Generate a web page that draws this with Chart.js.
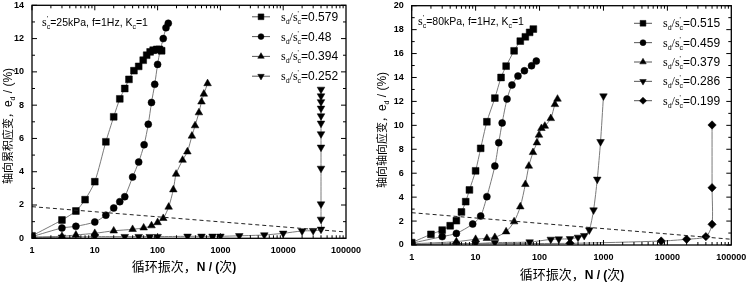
<!DOCTYPE html>
<html>
<head>
<title>Cyclic strain curves</title>
<script src="https://cdn.jsdelivr.net/npm/chart.js"></script>
<style>
  body { margin: 0; background: #fff; }
  .panel { position: absolute; top: 0; width: 374px; height: 282px; }
</style>
</head>
<body>
<div class="panel" style="left:0"><canvas id="leftChart" width="374" height="282"></canvas></div>
<div class="panel" style="left:374px"><canvas id="rightChart" width="374" height="282"></canvas></div>
<script>
// ---- data ----
// left panel: s'c = 25kPa
const leftRatios = ['0.579', '0.48', '0.394', '0.252'];
const leftSqN = [1, 3, 5, 7, 10, 15, 20, 25, 30, 35, 42, 50, 59, 67, 76, 85, 97, 107, 116];
const leftSqE = [0.15, 1.1, 1.64, 2.32, 3.4, 5.8, 7.3, 8.38, 9.0, 9.55, 10.07, 10.33, 10.7, 11.0, 11.2, 11.3, 11.35, 11.35, 11.27];
const leftCiN = [1, 3, 5, 10, 15, 20, 25, 30, 40, 50, 61, 71, 80, 90, 100, 110, 123, 136, 148];
const leftCiE = [0.1, 0.62, 0.72, 0.98, 1.39, 1.82, 2.2, 2.5, 3.68, 4.58, 5.62, 6.85, 8.16, 9.25, 10.45, 11.3, 12.0, 12.65, 12.92];
const leftTrN = [1, 3, 5, 10, 20, 40, 60, 80, 100, 123, 150, 178, 197, 250, 298, 352, 395, 455, 500, 545, 625];
const leftTrE = [0.08, 0.12, 0.2, 0.3, 0.45, 0.54, 0.63, 0.76, 0.95, 1.2, 1.88, 2.92, 3.86, 4.7, 5.2, 6.15, 6.77, 7.55, 8.2, 8.67, 9.3];
const leftInN = [1, 3, 10, 30, 50, 75, 100, 300, 500, 750, 1000, 2000, 5000, 10000, 20000, 30000, 40000, 40000, 40000, 40000, 40000, 40000, 40000, 40000, 40000, 40000, 40000, 40000];
const leftInE = [0.05, 0.06, 0.1, 0.1, 0.1, 0.1, 0.1, 0.12, 0.12, 0.12, 0.12, 0.15, 0.2, 0.3, 0.44, 0.46, 0.54, 1.14, 2.06, 4.2, 5.47, 6.27, 6.91, 7.35, 7.81, 8.2, 8.55, 8.95];
const leftLimitN = [1, 100000];
const leftLimitE = [1.9, 0.38];

// right panel: s'c = 80kPa
const rightRatios = ['0.515', '0.459', '0.379', '0.286', '0.199'];
const rightSqN = [1, 2, 3, 4, 5, 6, 7, 8, 10, 12, 15, 20, 25, 30, 40, 50, 60, 70, 80];
const rightSqE = [0.2, 0.89, 1.25, 1.61, 2.03, 2.76, 3.62, 4.6, 6.2, 8.08, 10.3, 12.28, 14.0, 14.95, 16.23, 17.04, 17.4, 17.77, 18.05];
const rightCiN = [1, 3, 5, 9, 12, 15, 20, 23, 26, 31, 37, 46, 58, 75, 89];
const rightCiE = [0.15, 0.7, 0.97, 1.75, 2.42, 4.04, 6.6, 8.55, 10.2, 12.2, 13.37, 14.12, 14.56, 14.98, 15.37];
const rightTrN = [1, 5, 10, 15, 20, 30, 40, 50, 60, 68, 79, 91, 98, 107, 121, 150, 174, 191];
const rightTrE = [0.1, 0.28, 0.48, 0.56, 0.64, 1.11, 1.95, 3.2, 5.07, 6.6, 7.74, 8.55, 9.19, 9.75, 9.94, 10.58, 11.75, 12.2];
const rightInN = [1, 10, 20, 70, 150, 200, 300, 400, 500, 600, 700, 800, 900, 1000];
const rightInE = [0.05, 0.12, 0.2, 0.25, 0.47, 0.5, 0.52, 0.64, 0.78, 1.25, 2.92, 5.49, 8.63, 12.45];
const rightDiN = [1, 5, 300, 8000, 20000, 40000, 50000, 50000, 50000];
const rightDiE = [0.05, 0.12, 0.14, 0.33, 0.48, 0.7, 1.73, 4.79, 10.03];
const rightLimitN = [1, 100000];
const rightLimitE = [2.7, 0.48];

const decades = [1, 10, 100, 1000, 10000, 100000];

// ---- fonts ----
const SANS = '"Liberation Sans", Arial, sans-serif';
const SERIF = '"Liberation Serif", "Times New Roman", serif';
const CJK = '"Noto Sans CJK SC", sans-serif';

const markers = [
  { style: 'rect', radius: 4.8, rotation: 0 },
  { style: 'circle', radius: 3.5, rotation: 0 },
  { style: 'triangle', radius: 4.4, rotation: 0 },
  { style: 'triangle', radius: 4.4, rotation: 180 },
  { style: 'rectRot', radius: 4.2, rotation: 0 }
];

function pts(ns, es) {
  return ns.map((n, i) => ({ x: n, y: es[i] }));
}

function series(label, ns, es, k) {
  const m = markers[k];
  return {
    label: label,
    data: pts(ns, es),
    showLine: true,
    borderColor: '#7a7a7a',
    borderWidth: 1,
    tension: 0.25,
    pointStyle: m.style,
    pointRadius: m.radius,
    pointRotation: m.rotation,
    pointBackgroundColor: '#000',
    pointBorderColor: '#000',
    pointBorderWidth: 0.5
  };
}

function limitLine(ns, es) {
  return {
    label: 'limit',
    data: pts(ns, es),
    showLine: true,
    borderColor: '#222',
    borderWidth: 1,
    borderDash: [4, 3],
    pointRadius: 0,
    tension: 0
  };
}

// draw a run of text pieces, some raised or lowered
function drawRich(ctx, x, y, parts) {
  parts.forEach(p => {
    ctx.font = p.f;
    ctx.fillText(p.t, x, y + (p.dy || 0));
    if (!p.keep) x += ctx.measureText(p.t).width;
  });
  return x;
}

function richWidth(ctx, parts) {
  let w = 0;
  parts.forEach(p => {
    ctx.font = p.f;
    if (!p.keep) w += ctx.measureText(p.t).width;
  });
  return w;
}

function ratioParts(v) {
  return [
    { t: 's', f: '12px ' + SERIF },
    { t: 'd', f: '7px ' + SANS, dy: 3 },
    { t: '/', f: '12px ' + SERIF },
    { t: 's', f: '12px ' + SERIF },
    { t: "'", f: '7px ' + SANS, dy: -5, keep: true },
    { t: 'c', f: '7px ' + SANS, dy: 3 },
    { t: '=' + v, f: '12px ' + SANS }
  ];
}

function stressParts(kpa) {
  return [
    { t: 's', f: '12px ' + SERIF },
    { t: "'", f: '7px ' + SANS, dy: -5, keep: true },
    { t: 'c', f: '7px ' + SANS, dy: 3 },
    { t: '=' + kpa + 'kPa, f=1Hz, K', f: '10.5px ' + SANS },
    { t: 'c', f: '7px ' + SANS, dy: 3 },
    { t: '=1', f: '10.5px ' + SANS }
  ];
}

function drawMarker(ctx, k, x, y) {
  const m = markers[k];
  ctx.fillStyle = '#000';
  ctx.strokeStyle = '#000';
  ctx.lineWidth = 0.5;
  Chart.helpers.drawPoint(ctx, { pointStyle: m.style, radius: m.radius * 0.85, rotation: m.rotation, borderWidth: 0.5 }, x, y);
}

function framePlugin(cfg) {
  return {
    id: 'frame',
    afterDraw(chart) {
      const ctx = chart.ctx;
      const a = chart.chartArea;
      const xs = chart.scales.x;
      const ys = chart.scales.y;
      ctx.save();
      ctx.strokeStyle = '#000';
      // inward tick marks on all four sides
      ctx.lineWidth = 1;
      ctx.beginPath();
      for (let e = 0; e < 5; e++) {
        for (let m = 1; m < 10; m++) {
          const px = xs.getPixelForValue(m * Math.pow(10, e));
          const len = m === 1 ? 5 : 3;
          ctx.moveTo(px, a.bottom); ctx.lineTo(px, a.bottom - len);
          ctx.moveTo(px, a.top); ctx.lineTo(px, a.top + len);
        }
      }
      for (let v = 0; v <= cfg.yMax; v++) {
        const py = ys.getPixelForValue(v);
        const len = v % 2 === 0 ? 5 : 3;
        ctx.moveTo(a.left, py); ctx.lineTo(a.left + len, py);
        ctx.moveTo(a.right, py); ctx.lineTo(a.right - len, py);
      }
      ctx.stroke();
      ctx.lineWidth = 1.3;
      ctx.strokeRect(a.left, a.top, a.right - a.left, a.bottom - a.top);

      // condition note
      ctx.fillStyle = '#000';
      ctx.textBaseline = 'alphabetic';
      ctx.textAlign = 'left';
      drawRich(ctx, cfg.noteX, cfg.noteY, stressParts(cfg.kpa));

      // legend
      cfg.ratios.forEach((r, i) => {
        const y = cfg.legY + i * cfg.legStep;
        ctx.strokeStyle = '#555';
        ctx.lineWidth = 1;
        ctx.beginPath();
        ctx.moveTo(cfg.legX, y); ctx.lineTo(cfg.legX + 18, y);
        ctx.stroke();
        drawMarker(ctx, i, cfg.legX + 9, y);
        ctx.fillStyle = '#000';
        drawRich(ctx, cfg.legX + 29, y + 4, ratioParts(r));
      });

      // x title
      const xt = [
        { t: '循环振次，', f: '13px ' + CJK },
        { t: 'N / (', f: 'bold 12px ' + SANS },
        { t: '次', f: '13px ' + CJK },
        { t: ')', f: 'bold 12px ' + SANS }
      ];
      drawRich(ctx, cfg.xtX - richWidth(ctx, xt) / 2, cfg.xtY, xt);

      // y title, rotated
      const yt = [
        { t: cfg.yText + '，', f: '11px ' + CJK },
        { t: 'e', f: '12px ' + SANS },
        { t: 'd', f: '7px ' + SANS, dy: 3 },
        { t: ' / (%)', f: '12px ' + SANS }
      ];
      ctx.translate(cfg.ytX, cfg.ytY);
      ctx.rotate(-Math.PI / 2);
      drawRich(ctx, -richWidth(ctx, yt) / 2, 0, yt);
      ctx.restore();
    }
  };
}

function makeChart(id, datasets, cfg) {
  new Chart(document.getElementById(id), {
    type: 'scatter',
    data: { datasets: datasets },
    options: {
      responsive: false,
      animation: false,
      layout: { padding: { left: 0, right: cfg.padRight, top: cfg.padTop, bottom: 0 } },
      plugins: { legend: { display: false }, tooltip: { enabled: false } },
      scales: {
        x: {
          type: 'logarithmic',
          min: 1,
          max: 100000,
          grid: { display: false, drawTicks: false },
          border: { display: false },
          ticks: {
            autoSkip: false,
            maxRotation: 0,
            padding: cfg.xPad,
            color: '#000',
            font: { family: SANS, size: 9, weight: 'bold' },
            callback: v => decades.includes(v) ? String(v) : ''
          },
          afterFit: s => {
            s.height = cfg.xAxisH;
            s.paddingLeft = 0;
            s.paddingRight = 0;
          }
        },
        y: {
          min: 0,
          max: cfg.yMax,
          grid: { display: false, drawTicks: false },
          border: { display: false },
          ticks: {
            stepSize: 2,
            padding: 8,
            color: '#000',
            font: { family: SANS, size: 9, weight: 'bold' }
          },
          afterFit: s => {
            s.width = cfg.yAxisW;
            s.paddingTop = 0;
            s.paddingBottom = 0;
          }
        }
      }
    },
    plugins: [framePlugin(cfg)]
  });
}

makeChart('leftChart', [
  limitLine(leftLimitN, leftLimitE),
  series(leftRatios[0], leftSqN, leftSqE, 0),
  series(leftRatios[1], leftCiN, leftCiE, 1),
  series(leftRatios[2], leftTrN, leftTrE, 2),
  series(leftRatios[3], leftInN, leftInE, 3)
], {
  yMax: 14, yAxisW: 32, xAxisH: 43.7, padRight: 28, padTop: 5.3, xPad: 7,
  kpa: 25, noteX: 42, noteY: 26,
  ratios: leftRatios, legX: 252, legY: 16.8, legStep: 19.8,
  xtX: 184, xtY: 271, ytX: 12, ytY: 126, yText: '轴向累积应变'
});

makeChart('rightChart', [
  limitLine(rightLimitN, rightLimitE),
  series(rightRatios[0], rightSqN, rightSqE, 0),
  series(rightRatios[1], rightCiN, rightCiE, 1),
  series(rightRatios[2], rightTrN, rightTrE, 2),
  series(rightRatios[3], rightInN, rightInE, 3),
  series(rightRatios[4], rightDiN, rightDiE, 4)
], {
  yMax: 20, yAxisW: 37.7, xAxisH: 37, padRight: 16.7, padTop: 5.7, xPad: 7.5,
  kpa: 80, noteX: 44, noteY: 25,
  ratios: rightRatios, legX: 260, legY: 23.3, legStep: 19.35,
  xtX: 198, xtY: 279, ytX: 12, ytY: 130, yText: '轴向轴向应变'
});
</script>
</body>
</html>
